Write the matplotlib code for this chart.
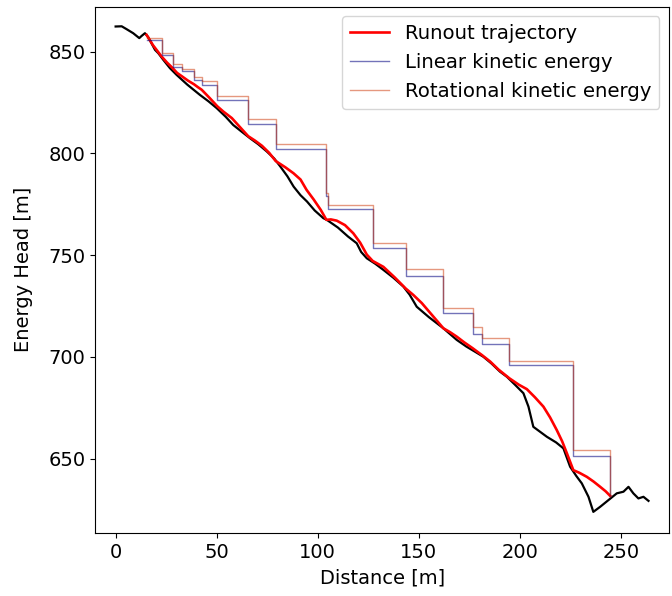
import numpy as np
import matplotlib
matplotlib.use('Agg')
import matplotlib.pyplot as plt

# terrain profile (distance [m], elevation [m])
terrain_d = [0, 3, 5.4, 8.7, 11.7, 12.9, 14.5, 16.1, 19.5, 21.1, 23.6, 26.9, 30.2, 35.5,
             41.7, 46.0, 50, 54.5, 58.2, 62.0, 66.5, 70.5, 74.8, 78.5, 81.5, 85.0, 88.1,
             91.5, 94.7, 98.5, 102.8, 104.5, 110.0, 115.0, 119.3, 121.5, 124.3, 128.5,
             132.5, 137.5, 142.4, 145.5, 149, 155.0, 162.2, 168.8, 173.6, 178.0, 182,
             186.0, 190.2, 193.6, 197.5, 201.8, 204.3, 206.7, 213.4, 218.0, 221.6, 224.9,
             228.0, 230.7, 234, 236.4, 239.8, 243.9, 248, 251.3, 253.8, 256.2, 258.7,
             261.2, 263.7]
terrain_e = [862.4, 862.5, 861.1, 859.1, 856.7, 857.8, 859.1, 857.2, 850.9, 849.3, 846,
             841.9, 838.6, 833.8, 828.8, 825.6, 822.3, 818.0, 814, 811.0, 807.5, 804.6,
             801, 797.5, 793.6, 788.8, 783.7, 779.5, 776.4, 772.0, 768.2, 767.4, 763.6,
             759.2, 755.9, 751.6, 748.5, 745.8, 742.8, 738.9, 734.6, 730.6, 724.7, 719.6,
             714.1, 708.4, 705.1, 702.5, 700.1, 696.8, 692.8, 690.3, 686.5, 682.2, 675.6,
             665.7, 660.8, 658.0, 655.1, 646.1, 641.5, 637.9, 631.3, 623.9, 626.4, 629.7,
             633, 633.8, 636.2, 633, 630.5, 631.3, 629.3]

# runout trajectory
traj_d = [15.3, 18.5, 22.8, 25.5, 28.2, 30.4, 32.7, 35.8, 38.8, 40.7, 42.6, 46.5, 50.3,
          53.3, 57.5, 61.5, 65.6, 69.0, 72.4, 76.0, 79.2, 84.0, 88.0, 91.5, 94.5, 98.0,
          101.5, 104.3, 106.5, 109.4, 113.5, 117.6, 121.0, 124.3, 127.2, 132.5, 138.0,
          143.6, 147.3, 151.5, 156.5, 162.2, 165.5, 168.8, 172.5, 176.7, 179.0, 181.2,
          185.3, 189.5, 194.9, 199.5, 203.5, 207.5, 211.7, 215.0, 218.3, 221.0, 223.3,
          226.5, 229.5, 233.2, 236.5, 239.8, 242.5, 244.7]
traj_e = [858.3, 853.2, 847.6, 844.6, 842.0, 839.6, 838.0, 835.8, 834.0, 832.6, 831.3,
          827.3, 823.2, 820.6, 817.4, 813.0, 808.5, 806.3, 803.8, 800.3, 796.3, 793.2,
          790.3, 787.2, 782.1, 777.4, 772.3, 767.4, 767.6, 767.0, 764.8, 760.8, 756.2,
          750.3, 747.2, 744.3, 739.2, 733.6, 730.5, 726.5, 720.7, 714.1, 712.2, 710.0,
          707.2, 704.3, 702.6, 701.0, 697.8, 693.8, 689.5, 686.4, 684.2, 680.2, 675.6,
          670.3, 664.1, 658.5, 652.7, 644.4, 643.1, 641.1, 638.8, 636.2, 634.0, 631.8]

# energy head steps (bounce positions and levels after each bounce)
step_d = [15.3, 22.8, 28.2, 32.7, 38.8, 42.6, 50.3, 65.6, 79.2, 104.0, 104.9, 127.2,
          143.6, 162.2, 176.7, 181.2, 194.9, 226.5, 244.7]
linear_e = [855.8, 848.2, 842.7, 840.3, 836.2, 833.7, 826.4, 814.5, 802.3, 779.0, 772.6,
            753.4, 740.0, 721.5, 711.3, 706.5, 696.1, 651.3, 631.8]
rot_e = [856.8, 849.2, 843.9, 841.4, 837.5, 835.4, 828.3, 817.0, 804.7, 780.8, 774.7,
         756.2, 743.1, 724.2, 714.9, 709.2, 698.2, 654.3, 631.8]

plt.rcParams['font.size'] = 14
fig = plt.figure(figsize=(6.72, 5.96), dpi=100)
ax = fig.add_axes([0.142, 0.106, 0.854, 0.883])

ax.plot(terrain_d, terrain_e, color='black', lw=1.6)
ax.plot(traj_d, traj_e, color='red', lw=1.9, label='Runout trajectory')
ax.plot(step_d, linear_e, drawstyle='steps-post', color='navy', alpha=0.55, lw=1,
        label='Linear kinetic energy')
ax.plot(step_d, rot_e, drawstyle='steps-post', color='#cc3300', alpha=0.5, lw=1,
        label='Rotational kinetic energy')

ax.set_xlim(-10, 274)
ax.set_ylim(613.6, 872.2)
ax.set_xlabel('Distance [m]', labelpad=5)
ax.set_ylabel('Energy Head [m]', labelpad=11)
ax.legend(loc='upper right', fontsize=14.2)

fig.savefig('out.png', dpi=100)
